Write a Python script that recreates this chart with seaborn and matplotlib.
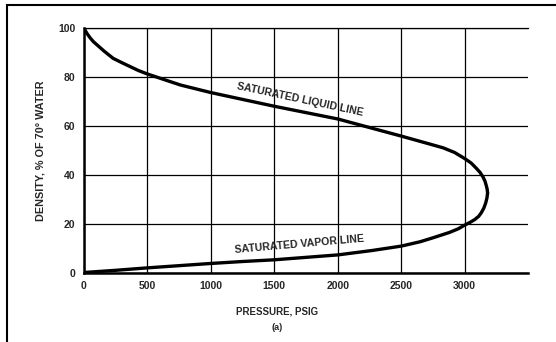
import matplotlib
matplotlib.use('Agg')
import matplotlib.pyplot as plt
import seaborn as sns
import pandas as pd

# Saturated liquid / vapor density of water vs pressure
liquid_psig = [0, 10, 25, 50, 75, 103, 160, 230, 300, 365, 430, 500, 650, 760, 1000,
               1250, 1500, 1750, 2000, 2200, 2350, 2500, 2700, 2830, 2920, 3000,
               3050, 3090, 3120, 3145, 3160, 3170, 3177, 3180]
liquid_density = [100, 99.0, 97.7, 95.9, 94.4, 93.1, 90.5, 87.6, 85.8, 84.2, 82.6, 81.2,
                  78.6, 76.7, 73.6, 70.8, 68.0, 65.4, 62.8, 60.0, 57.9, 55.8, 52.9,
                  51.0, 49.1, 46.6, 44.8, 42.7, 41.0, 39.0, 37.3, 35.5, 34.0, 32.5]
vapor_psig = [0, 250, 500, 750, 1000, 1250, 1500, 1750, 2000, 2270, 2500, 2650,
              2750, 2880, 2950, 3000, 3045, 3080, 3110, 3130, 3150, 3165, 3175, 3180]
vapor_density = [0, 0.9, 1.9, 2.8, 3.7, 4.5, 5.2, 6.2, 7.2, 9.0, 10.8, 12.6,
                 14.2, 16.4, 17.9, 19.4, 20.6, 21.7, 23.0, 24.4, 26.3, 28.4, 30.5, 32.5]

x_ticks = [0, 500, 1000, 1500, 2000, 2500, 3000]
y_ticks = [0, 20, 40, 60, 80, 100]

sns.set_style('white')
plt.rcParams['font.family'] = ['Liberation Sans', 'DejaVu Sans']
plt.rcParams['font.weight'] = 'bold'

liquid = pd.DataFrame({'psig': liquid_psig, 'density': liquid_density})
vapor = pd.DataFrame({'psig': vapor_psig, 'density': vapor_density})

fig = plt.figure(figsize=(5.56, 3.42), dpi=100)
ax = fig.add_axes([0.151, 0.2032, 0.799, 0.7148])

sns.lineplot(data=liquid, x='psig', y='density', sort=False, estimator=None,
             color='black', linewidth=2.4, ax=ax)
sns.lineplot(data=vapor, x='psig', y='density', sort=False, estimator=None,
             color='black', linewidth=2.4, ax=ax)

ax.set_xlim(0, 3500)
ax.set_ylim(0, 100)
ax.set_xticks(x_ticks)
ax.set_yticks(y_ticks)
ax.tick_params(length=0, labelsize=7.5, pad=6)
ax.grid(True, color='black', linewidth=0.9)
ax.set_axisbelow(True)
for side in ['left', 'bottom']:
    ax.spines[side].set_linewidth(1.8)
    ax.spines[side].set_color('black')
ax.spines['top'].set_linewidth(0.9)
ax.spines['top'].set_color('black')
ax.spines['right'].set_visible(False)

ax.set_xlabel('PRESSURE, PSIG', fontsize=7, fontweight='bold')
ax.xaxis.set_label_coords(0.435, -0.14)
ax.set_ylabel('DENSITY, % OF 70° WATER', fontsize=7.8, fontweight='bold')
ax.yaxis.set_label_coords(-0.086, 0.5)
ax.text(0.435, -0.205, '(a)', transform=ax.transAxes, ha='center', va='top',
        fontsize=6.5, fontweight='bold')

ax.text(1700, 70.8, 'SATURATED LIQUID LINE', rotation=-12, ha='center', va='center',
        fontsize=7.6, fontweight='bold')
ax.text(1700, 11.4, 'SATURATED VAPOR LINE', rotation=5, ha='center', va='center',
        fontsize=7.6, fontweight='bold')

# outer frame of the figure panel
frame = plt.Rectangle((0.0126, -0.02), 1.1, 1.005, transform=fig.transFigure,
                      fill=False, edgecolor='black', linewidth=1.5)
fig.add_artist(frame)

fig.savefig('out.png', dpi=100)
